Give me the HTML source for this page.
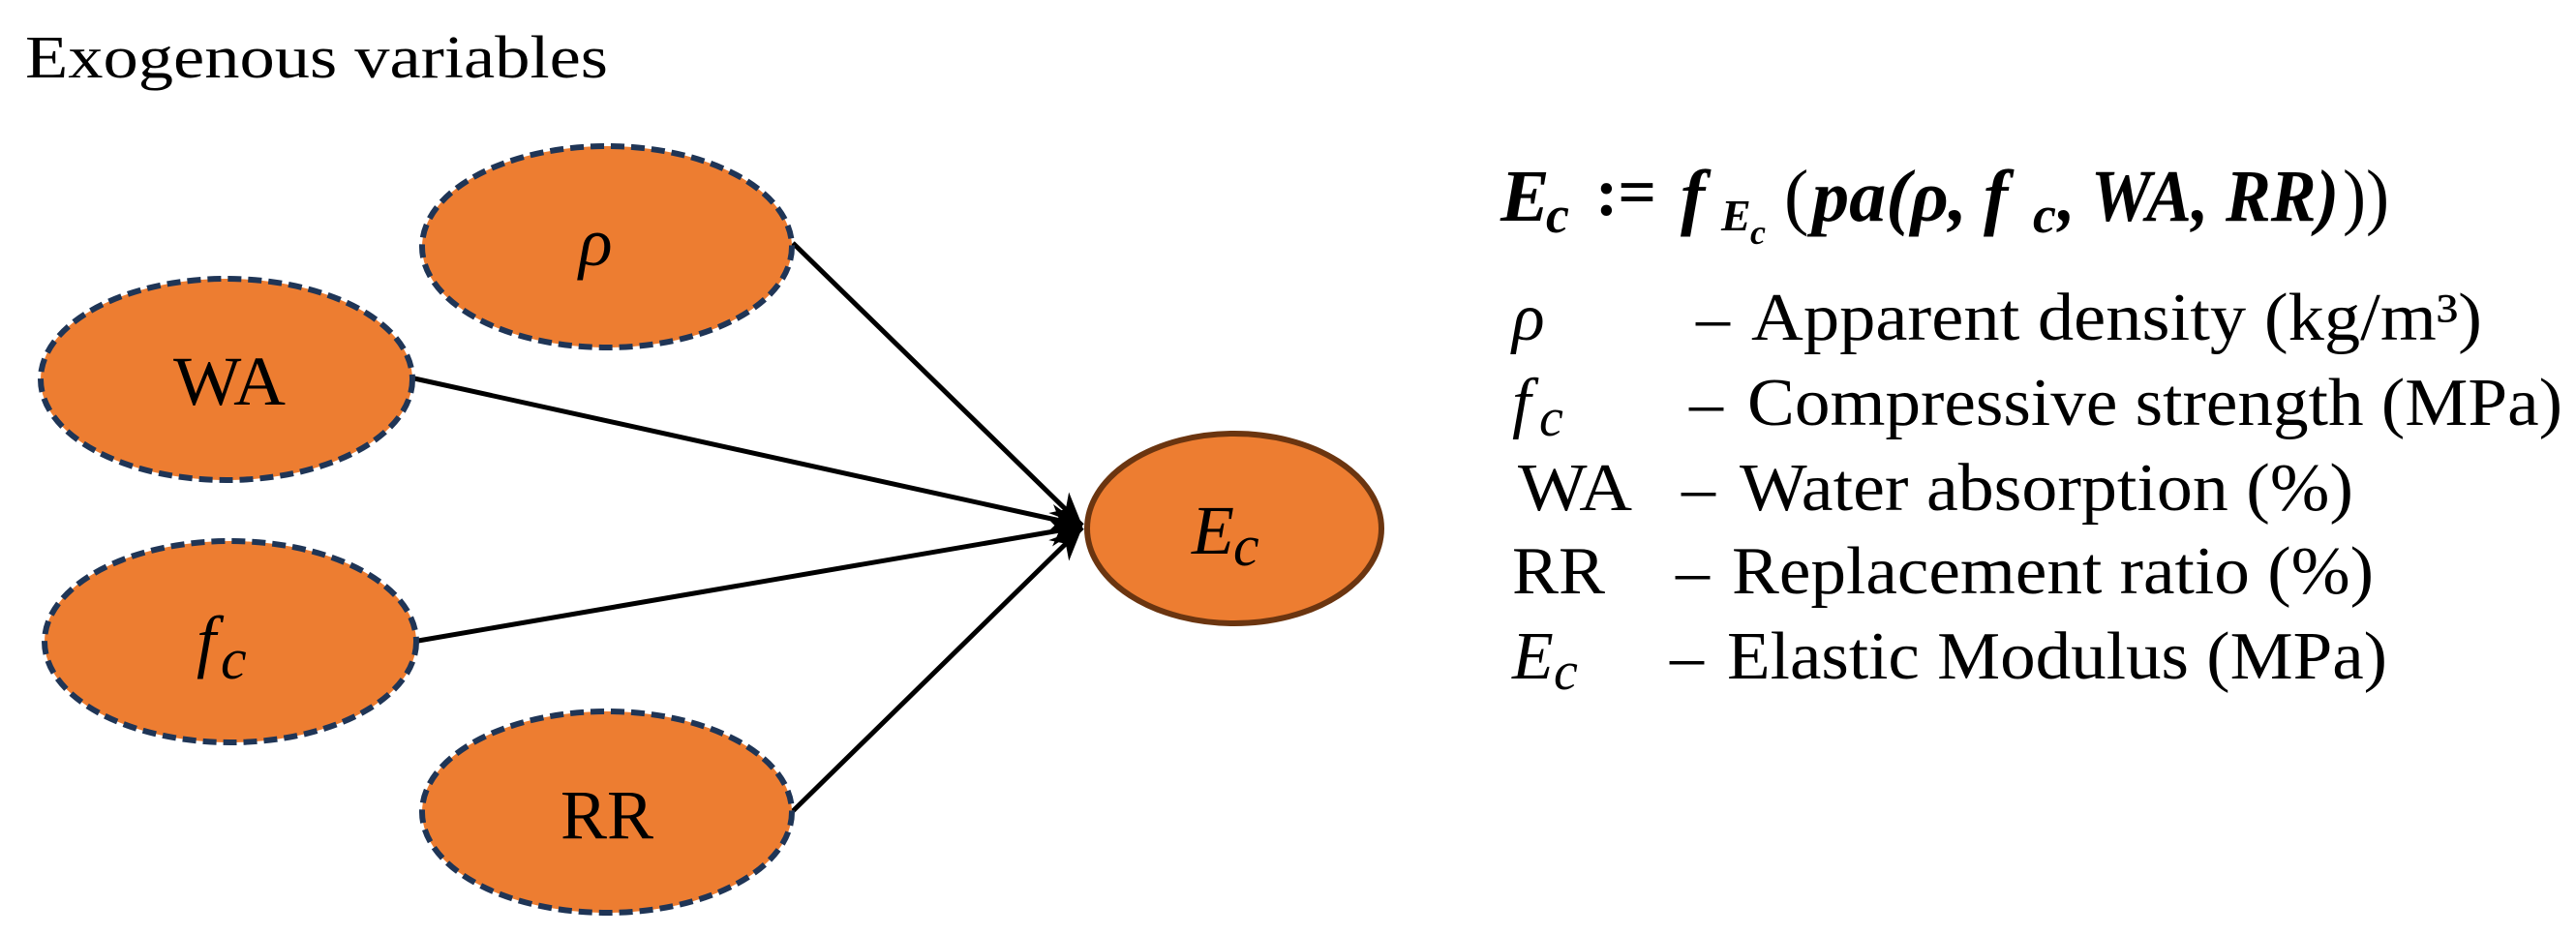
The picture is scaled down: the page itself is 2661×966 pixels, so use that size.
<!DOCTYPE html>
<html><head><meta charset="utf-8">
<style>
html,body{margin:0;padding:0;background:#fff;}
svg{display:block;}
text{font-family:"Liberation Serif",serif;fill:#000;}
.it{font-style:italic;}
.bi{font-style:italic;font-weight:bold;}
</style></head>
<body>
<svg width="2661" height="966" viewBox="0 0 2661 966" xmlns="http://www.w3.org/2000/svg">
<defs>
<marker id="ah" markerUnits="userSpaceOnUse" markerWidth="40" markerHeight="40" viewBox="-36 -18 40 36" refX="0" refY="0" orient="auto">
<path d="M0,0 L-34,-15 L-24,0 L-34,15 Z" fill="#000"/>
</marker>
</defs>

<text x="26" y="80" font-size="62" textLength="602" lengthAdjust="spacingAndGlyphs">Exogenous variables</text>

<!-- connectors -->
<g stroke="#000" stroke-width="5" fill="none">
<line x1="819" y1="251" x2="1118" y2="543" marker-end="url(#ah)"/>
<line x1="428" y1="391" x2="1118" y2="543" marker-end="url(#ah)"/>
<line x1="432" y1="662" x2="1118" y2="544" marker-end="url(#ah)"/>
<line x1="819" y1="838" x2="1118" y2="545" marker-end="url(#ah)"/>
</g>

<!-- exogenous nodes -->
<g fill="#ed7d31" stroke="#1f3556" stroke-width="6" stroke-dasharray="14 7">
<ellipse cx="627" cy="255" rx="191" ry="104"/>
<ellipse cx="234" cy="392" rx="192" ry="104"/>
<ellipse cx="238" cy="663" rx="192" ry="104"/>
<ellipse cx="627" cy="839" rx="191" ry="104"/>
</g>
<ellipse cx="1275" cy="546" rx="152" ry="98" fill="#ed7d31" stroke="#6b3510" stroke-width="6"/>

<text x="598" y="274" font-size="72" class="it">ρ</text>
<text x="179" y="418" font-size="72" textLength="116" lengthAdjust="spacingAndGlyphs">WA</text>
<text x="203" y="686" font-size="72" class="it">f</text>
<text x="228" y="701" font-size="60" class="it">c</text>
<text x="579" y="866" font-size="72" textLength="96" lengthAdjust="spacingAndGlyphs">RR</text>
<text x="1231" y="572" font-size="72" class="it">E</text>
<text x="1274" y="584" font-size="60" class="it">c</text>

<!-- formula -->
<text x="1550" y="228" font-size="76" class="bi">E</text>
<text x="1597" y="240" font-size="54" class="bi">c</text>
<text x="1648" y="222" font-size="70" font-weight="bold">:=</text>
<text x="1736" y="228" font-size="76" class="bi">f</text>
<text x="1778" y="238" font-size="46" class="bi">E</text>
<text x="1808" y="252" font-size="36" class="bi">c</text>
<text x="1843" y="228" font-size="76">(</text>
<text x="1872" y="228" font-size="76" class="bi" textLength="160" lengthAdjust="spacingAndGlyphs">pa(ρ,</text>
<text x="2049" y="228" font-size="76" class="bi">f</text>
<text x="2100" y="240" font-size="54" class="bi">c</text>
<text x="2126" y="228" font-size="76" class="bi" textLength="290" lengthAdjust="spacingAndGlyphs">, WA, RR)</text>
<text x="2420" y="228" font-size="76" textLength="48" lengthAdjust="spacingAndGlyphs">))</text>

<!-- legend -->
<g font-size="70">
<text x="1562" y="351" class="it">ρ</text>
<text x="1752" y="351">–</text>
<text x="1809" y="351" textLength="755" lengthAdjust="spacingAndGlyphs">Apparent density (kg/m³)</text>

<text x="1562" y="439" class="it">f</text>
<text x="1590" y="450" font-size="56" class="it">c</text>
<text x="1745" y="439">–</text>
<text x="1805" y="439" textLength="842" lengthAdjust="spacingAndGlyphs">Compressive strength (MPa)</text>

<text x="1568" y="527" textLength="118" lengthAdjust="spacingAndGlyphs">WA</text>
<text x="1737" y="527">–</text>
<text x="1797" y="527" textLength="634" lengthAdjust="spacingAndGlyphs">Water absorption (%)</text>

<text x="1562" y="613" textLength="96" lengthAdjust="spacingAndGlyphs">RR</text>
<text x="1731" y="613">–</text>
<text x="1789" y="613" textLength="663" lengthAdjust="spacingAndGlyphs">Replacement ratio (%)</text>

<text x="1562" y="701" class="it">E</text>
<text x="1605" y="712" font-size="56" class="it">c</text>
<text x="1725" y="701">–</text>
<text x="1784" y="701" textLength="682" lengthAdjust="spacingAndGlyphs">Elastic Modulus (MPa)</text>
</g>
</svg>
</body></html>
